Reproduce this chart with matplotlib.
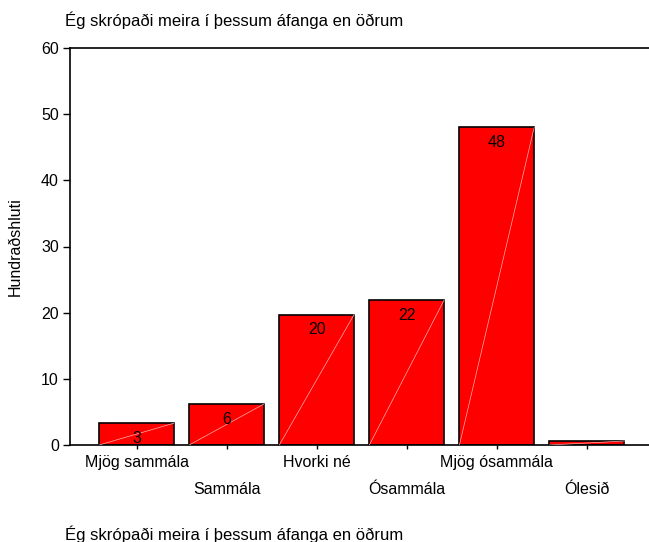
import numpy as np
import matplotlib.pyplot as plt

plt.rcParams['font.family'] = ['Liberation Sans', 'DejaVu Sans']

categories = ["Mjög sammála", "Sammála", "Hvorki né", "Ósammála", "Mjög ósammála", "Ólesið"]
percent = [3.3, 6.2, 19.7, 21.9, 48.0, 0.6]
bar_labels = ["3", "6", "20", "22", "48", ""]
title = "Ég skrópaði meira í þessum áfanga en öðrum"

fig = plt.figure(figsize=(6.49, 5.42), dpi=100)
ax = fig.add_axes([70 / 649, 1 - 445 / 542, 1 - 70 / 649, (445 - 48) / 542])

x = np.arange(len(categories))
width = 0.83
bars = ax.bar(x, percent, width=width, color="#ff0000", edgecolor="black", linewidth=1.2, zorder=2)

# faint diagonal inside each bar
for xi, h in zip(x, percent):
    ax.plot([xi - width / 2, xi + width / 2], [0, h], color="#ffb0b0", lw=0.5, zorder=3)

for xi, h, lab in zip(x, percent, bar_labels):
    if lab:
        ax.annotate(lab, (xi, h), xytext=(0, -11), textcoords="offset points",
                    ha="center", va="center", fontsize=11.5, zorder=5)

ax.set_xlim(-0.739, 5.69)
ax.set_ylim(0, 60)
ax.set_yticks(range(0, 61, 10))
ax.set_xticks(x)
ax.set_xticklabels([c if i % 2 == 0 else "\n" + c for i, c in enumerate(categories)],
                   fontsize=11.5, linespacing=2.0)
ax.tick_params(axis="y", labelsize=11.5, length=5, width=1, pad=3)
ax.tick_params(axis="x", length=3, width=1, pad=4)
ax.spines["right"].set_visible(False)
for s in ["left", "bottom", "top"]:
    ax.spines[s].set_linewidth(1.2)

ax.set_ylabel("Hundraðshluti", fontsize=11.5, labelpad=13)
fig.text(65 / 649, 1 - 20 / 542, title, fontsize=12, ha="left", va="center")
fig.text(65 / 649, 1 - 534 / 542, title, fontsize=12, ha="left", va="center")

fig.savefig("out.png", dpi=100)
